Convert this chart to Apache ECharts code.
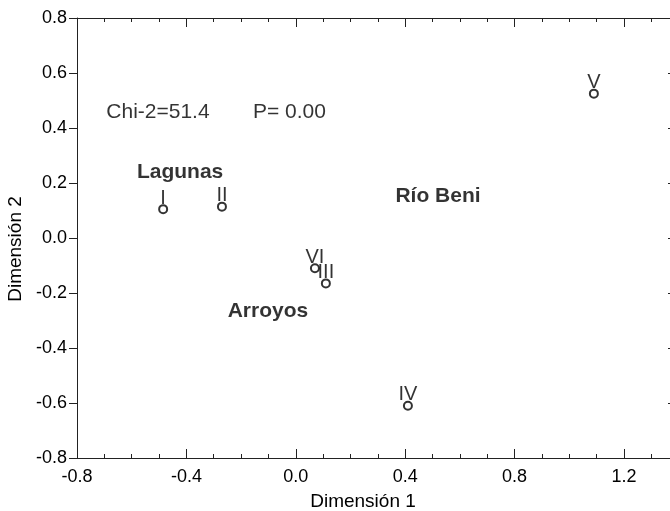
<!DOCTYPE html>
<html>
<head>
<meta charset="utf-8">
<script src="https://cdn.jsdelivr.net/npm/echarts@6/dist/echarts.min.js"></script>
<style>
  html, body { margin: 0; padding: 0; background: #fff; }
  #chart { width: 670px; height: 511px; }
</style>
</head>
<body>
<div id="chart"></div>
<script>
// sites (roman numerals) on the two correspondence dimensions
const siteNames = ["I", "II", "III", "IV", "V", "VI"];
const dim1 = [-0.485, -0.27, 0.11, 0.41, 1.09, 0.07];
const dim2 = [0.105, 0.114, -0.165, -0.61, 0.525, -0.11];

// habitat group labels
const groupNames = ["Lagunas", "Río Beni", "Arroyos"];
const groupX = [-0.423, 0.52, -0.102];
const groupY = [0.238, 0.151, -0.266];

// test statistics
const statTexts = ["Chi-2=51.4", "P= 0.00"];
const statX = [-0.504, -0.023];
const statY = [0.456, 0.456];

const X_MIN = -0.8, X_MAX = 1.372;
const Y_MIN = -0.8, Y_MAX = 0.8;

const FONT = "Liberation Sans, Arial, Helvetica, sans-serif";
const AXIS_COLOR = "#222";

const chart = echarts.init(document.getElementById("chart"));

const fmt = (v) => v.toFixed(1);

const baseX = {
  type: "value",
  min: X_MIN,
  max: X_MAX,
  splitLine: { show: false },
  axisLine: { show: true, onZero: false, lineStyle: { color: AXIS_COLOR, width: 1 } },
};

const options = {
  animation: false,
  grid: { left: 77, top: 18, width: 594, height: 440, containLabel: false, outerBoundsMode: "none" },
  xAxis: [
    // bottom, major ticks + labels
    Object.assign({}, baseX, {
      position: "bottom",
      interval: 0.4,
      axisTick: { show: true, inside: true, length: 9, lineStyle: { color: AXIS_COLOR } },
      axisLabel: {
        show: true, formatter: fmt, margin: 10, showMaxLabel: false,
        fontFamily: FONT, fontSize: 18, color: "#000",
      },
      name: "Dimensión 1",
      nameLocation: "middle",
      nameGap: 34,
      nameTextStyle: { fontFamily: FONT, fontSize: 19, color: "#000", padding: [0, 22, 0, 0] },
    }),
    // bottom, minor ticks
    Object.assign({}, baseX, {
      position: "bottom",
      interval: 0.1,
      axisTick: { show: true, inside: true, length: 4, lineStyle: { color: AXIS_COLOR } },
      axisLabel: { show: false },
    }),
    // top, major ticks
    Object.assign({}, baseX, {
      position: "top",
      interval: 0.4,
      axisTick: { show: true, inside: true, length: 9, lineStyle: { color: AXIS_COLOR } },
      axisLabel: { show: false },
    }),
    // top, minor ticks
    Object.assign({}, baseX, {
      position: "top",
      interval: 0.1,
      axisTick: { show: true, inside: true, length: 4, lineStyle: { color: AXIS_COLOR } },
      axisLabel: { show: false },
    }),
  ],
  yAxis: [
    {
      type: "value",
      position: "left",
      min: Y_MIN,
      max: Y_MAX,
      interval: 0.2,
      splitLine: { show: false },
      axisLine: { show: true, onZero: false, lineStyle: { color: AXIS_COLOR, width: 1 } },
      axisTick: { show: true, inside: false, length: 8, lineStyle: { color: AXIS_COLOR } },
      axisLabel: { formatter: fmt, margin: 10, fontFamily: FONT, fontSize: 18, color: "#000" },
      name: "Dimensión 2",
      nameLocation: "middle",
      nameGap: 52,
      nameMoveOverlap: false,
      nameTextStyle: { fontFamily: FONT, fontSize: 19, color: "#000", padding: [0, 22, 0, 0] },
    },
    {
      type: "value",
      position: "right",
      min: Y_MIN,
      max: Y_MAX,
      interval: 0.2,
      splitLine: { show: false },
      axisLine: { show: false, onZero: false },
      axisTick: { show: true, inside: true, length: 3, lineStyle: { color: AXIS_COLOR } },
      axisLabel: { show: false },
    },
  ],
  series: [
    {
      name: "sites",
      type: "scatter",
      xAxisIndex: 0,
      yAxisIndex: 0,
      symbol: "circle",
      symbolSize: 8,
      itemStyle: { color: "#fff", borderColor: "#000", borderWidth: 2 },
      label: {
        show: true,
        position: "top",
        distance: 0,
        offset: [0, 4],
        formatter: (p) => p.name,
        fontFamily: FONT,
        fontSize: 20,
        color: "#000",
      },
      data: siteNames.map((n, i) => ({ name: n, value: [dim1[i], dim2[i]] })),
      z: 3,
    },
    {
      name: "groups",
      type: "scatter",
      symbolSize: 0,
      silent: true,
      label: {
        show: true,
        position: "inside",
        formatter: (p) => p.name,
        fontFamily: FONT,
        fontSize: 21,
        fontWeight: "bold",
        color: "#000",
      },
      data: groupNames.map((n, i) => ({ name: n, value: [groupX[i], groupY[i]] })),
    },
    {
      name: "stats",
      type: "scatter",
      symbolSize: 0,
      silent: true,
      label: {
        show: true,
        position: "inside",
        formatter: (p) => p.name,
        fontFamily: FONT,
        fontSize: 21,
        color: "#000",
      },
      data: statTexts.map((n, i) => ({ name: n, value: [statX[i], statY[i]] })),
    },
  ],
};

chart.setOption(options);
</script>
</body>
</html>
